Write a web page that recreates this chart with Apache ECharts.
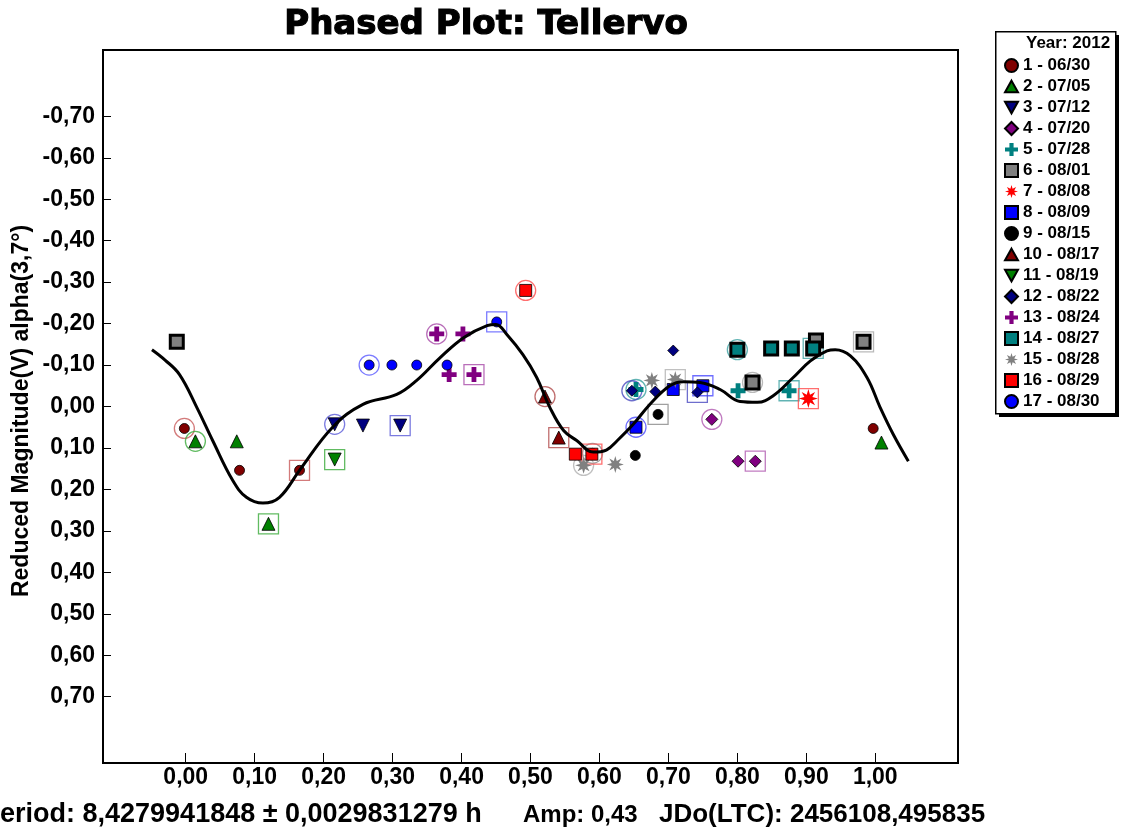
<!DOCTYPE html>
<html><head><meta charset="utf-8">
<script src="https://cdn.jsdelivr.net/npm/echarts@6/dist/echarts.min.js"></script>
<style>html,body{margin:0;padding:0;background:#fff}#c{width:1122px;height:832px}</style>
</head><body><div id="c"></div>
<script>
// ---------- DATA ----------
const chartTitle = 'Phased Plot: Tellervo';
const yAxisTitle = 'Reduced Magnitude(V) alpha(3,7°)';
const legendTitle = 'Year: 2012';
const footerPeriod = 'Period: 8,4279941848 ± 0,0029831279 h';
const footerAmp = 'Amp: 0,43';
const footerJD = 'JDo(LTC): 2456108,495835';

const seriesNames = ['1 - 06/30','2 - 07/05','3 - 07/12','4 - 07/20','5 - 07/28','6 - 08/01','7 - 08/08','8 - 08/09','9 - 08/15','10 - 08/17','11 - 08/19','12 - 08/22','13 - 08/24','14 - 08/27','15 - 08/28','16 - 08/29','17 - 08/30'];

// [phase, reduced magnitude, ring: 0 none, 1 circle, 2 square]
const s1  = [[-0.002,0.053,1],[0.078,0.154,0],[0.165,0.154,2],[0.997,0.053,0]];
const s2  = [[0.014,0.084,1],[0.074,0.084,0],[0.120,0.283,2],[1.009,0.087,0]];
const s3  = [[0.216,0.043,1],[0.257,0.046,0],[0.311,0.046,2]];
const s4  = [[0.763,0.031,1],[0.801,0.132,0],[0.826,0.132,2]];
const s5  = [[0.653,-0.041,1],[0.801,-0.038,0],[0.875,-0.038,2]];
const s6  = [[-0.013,-0.156,0],[0.822,-0.058,1],[0.914,-0.159,0],[0.983,-0.156,2]];
const s7  = [[0.903,-0.019,2]];
const s8  = [[0.653,0.050,1],[0.707,-0.041,0],[0.750,-0.050,2]];
const s9  = [[0.590,0.113,1],[0.652,0.118,0],[0.685,0.019,2]];
const s10 = [[0.521,-0.024,1],[0.541,0.075,2]];
const s11 = [[0.216,0.128,2]];
const s12 = [[0.647,-0.038,1],[0.681,-0.036,0],[0.707,-0.135,0],[0.742,-0.034,2]];
const s13 = [[0.364,-0.175,1],[0.382,-0.077,0],[0.402,-0.175,0],[0.418,-0.077,2]];
const s14 = [[0.800,-0.137,1],[0.849,-0.140,0],[0.879,-0.140,0],[0.910,-0.140,2]];
const s15 = [[0.577,0.142,1],[0.623,0.140,0],[0.676,-0.063,0],[0.710,-0.065,2]];
const s16 = [[0.493,-0.280,1],[0.565,0.115,0],[0.589,0.115,2]];
const s17 = [[0.266,-0.100,1],[0.299,-0.100,0],[0.335,-0.100,0],[0.379,-0.100,0],[0.451,-0.204,2]];
const allSeries = [s1,s2,s3,s4,s5,s6,s7,s8,s9,s10,s11,s12,s13,s14,s15,s16,s17];

// fitted curve
const curveX = [-0.049,-0.030,-0.009,0.016,0.039,0.068,0.088,0.112,0.136,0.165,0.213,0.257,0.306,0.335,0.369,0.403,0.437,0.450,0.466,0.489,0.509,0.528,0.548,0.567,0.591,0.610,0.626,0.649,0.673,0.702,0.722,0.746,0.775,0.804,0.829,0.852,0.881,0.906,0.930,0.942,0.964,0.988,1.007,1.026,1.048];
const curveY = [-0.137,-0.112,-0.077,0.002,0.082,0.178,0.219,0.233,0.219,0.154,0.050,-0.005,-0.029,-0.063,-0.118,-0.166,-0.195,-0.198,-0.173,-0.125,-0.070,0.002,0.058,0.082,0.110,0.105,0.082,0.043,-0.005,-0.050,-0.060,-0.058,-0.041,-0.012,-0.010,-0.026,-0.070,-0.110,-0.134,-0.137,-0.122,-0.070,0.002,0.067,0.132];

const xTicks = [0,0.1,0.2,0.3,0.4,0.5,0.6,0.7,0.8,0.9,1.0];
const yTicks = [-0.7,-0.6,-0.5,-0.4,-0.3,-0.2,-0.1,0,0.1,0.2,0.3,0.4,0.5,0.6,0.7];

// ---------- STYLES ----------
function starPath(n, rIn){
  let d = '';
  for (let i = 0; i < 2*n; i++){
    const a = i*Math.PI/n - Math.PI/2;
    const r = (i%2===0) ? 10 : 10*rIn;
    d += (i===0?'M':'L') + (10 + r*Math.cos(a)).toFixed(2) + ',' + (10 + r*Math.sin(a)).toFixed(2);
  }
  return 'path://' + d + 'Z';
}
const SYM_PLUS = 'path://M3.4,0H6.6V3.4H10V6.6H6.6V10H3.4V6.6H0V3.4H3.4Z';
const SYM_DOWN = 'path://M0,0L10,0L5,9Z';
const SYM_UP = 'path://M5,0L10,9L0,9Z';
const SYM_STAR = starPath(8, 0.45);
const styles = [
  {sym:'circle', size:10, color:'#800000', bw:0.8, ring:'#c85a5a'},
  {sym:SYM_UP, size:13, color:'#008000', bw:0.8, ring:'#3aaa3a'},
  {sym:SYM_DOWN, size:13, color:'#000080', bw:0.8, ring:'#5a5ad8'},
  {sym:'diamond', size:12, color:'#800080', bw:0.8, ring:'#b05ab0'},
  {sym:SYM_PLUS, size:15, color:'#008080', bw:0, ring:'#3aa0a0'},
  {sym:'rect', size:13, color:'#808080', bw:3, ring:'#a8a8a8'},
  {sym:SYM_STAR, size:19, color:'#ff0000', bw:0, ring:'#ff4a4a'},
  {sym:'rect', size:12, color:'#0000ff', bw:0.8, ring:'#4a4aff'},
  {sym:'circle', size:10, color:'#000000', bw:0.8, ring:'#888888'},
  {sym:SYM_UP, size:13, color:'#800000', bw:0.8, ring:'#b04a4a'},
  {sym:SYM_DOWN, size:13, color:'#008000', bw:0.8, ring:'#3aaa3a'},
  {sym:'diamond', size:11, color:'#000080', bw:0.8, ring:'#4a4ac0'},
  {sym:SYM_PLUS, size:15, color:'#800080', bw:0, ring:'#a84aa8'},
  {sym:'rect', size:13, color:'#008080', bw:3, ring:'#3aa0a0'},
  {sym:SYM_STAR, size:17, color:'#808080', bw:0, ring:'#b0b0b0'},
  {sym:'rect', size:12, color:'#ff0000', bw:0.8, ring:'#ff4a4a'},
  {sym:'circle', size:10, color:'#0000ff', bw:0.8, ring:'#5a5aff'}
];

const fmt = v => (Math.abs(v) < 1e-9 ? 0 : v).toFixed(2).replace('.', ',');
const FONT = 'Liberation Sans, Arial, sans-serif';

const series = [];
allSeries.forEach((pts, i) => {
  const st = styles[i];
  const circ = pts.filter(p => p[2] === 1).map(p => [p[0], p[1]]);
  const box = pts.filter(p => p[2] === 2).map(p => [p[0], p[1]]);
  if (circ.length) series.push({type:'scatter', data:circ, symbol:'circle', symbolSize:20, z:2, silent:true,
    itemStyle:{color:'rgba(0,0,0,0)', borderColor:st.ring, borderWidth:1.3}});
  if (box.length) series.push({type:'scatter', data:box, symbol:'rect', symbolSize:20, z:2, silent:true,
    itemStyle:{color:'rgba(0,0,0,0)', borderColor:st.ring, borderWidth:1.3}});
});
allSeries.forEach((pts, i) => {
  const st = styles[i];
  series.push({type:'scatter', name:seriesNames[i], data:pts.map(p => [p[0], p[1]]), symbol:st.sym, symbolSize:st.size, z:3,
    itemStyle:{color:st.color, borderColor:'#000', borderWidth:st.bw, opacity:1}});
});
series.push({type:'line', data:curveX.map((x, i) => [x, curveY[i]]), smooth:0.4, symbol:'none', z:5, silent:true,
  lineStyle:{color:'#000', width:3}});

const chart = echarts.init(document.getElementById('c'), null, {renderer:'canvas'});
chart.setOption({
  animation:false,
  backgroundColor:'#fff',
  grid:{left:103, right:164, top:50, bottom:69, show:true, borderColor:'#000', borderWidth:2, backgroundColor:'#fff'},
  xAxis:{type:'value', min:-0.12, max:1.12,
    axisLine:{show:true, onZero:false, lineStyle:{color:'#000', width:2}},
    axisTick:{show:true, inside:true, length:10, customValues:xTicks, lineStyle:{color:'#000', width:1}},
    axisLabel:{customValues:xTicks, formatter:fmt, color:'#000', fontFamily:FONT, fontWeight:'bold', fontSize:23, margin:3},
    splitLine:{show:false}},
  yAxis:{type:'value', min:-0.86, max:0.86, inverse:true,
    axisLine:{show:true, onZero:false, lineStyle:{color:'#000', width:2}},
    axisTick:{show:true, inside:true, length:8, customValues:yTicks, lineStyle:{color:'#000', width:1}},
    axisLabel:{customValues:yTicks, formatter:fmt, color:'#000', fontFamily:FONT, fontWeight:'bold', fontSize:23, margin:8},
    splitLine:{show:false}},
  legend:{show:true, orient:'vertical', left:1004, top:57, itemWidth:13, itemHeight:13, itemGap:4, padding:0,
    data:seriesNames, selectedMode:false,
    textStyle:{color:'#000', fontFamily:FONT, fontWeight:'bold', fontSize:17, lineHeight:17}},
  graphic:[
    {type:'rect', left:999, top:35, z:-2, shape:{width:120, height:382}, style:{fill:'#000'}},
    {type:'rect', left:995, top:31, z:-1, shape:{width:120, height:382}, style:{fill:'#fff', stroke:'#000', lineWidth:1.5}},
    {type:'text', left:1026, top:35, z:10, style:{text:legendTitle, fill:'#000', font:'bold 17px ' + FONT}},
    {type:'text', x:486, y:25, z:10, style:{text:chartTitle, fill:'#000', stroke:'#000', lineWidth:1.2, font:'bold 34px DejaVu Sans', textAlign:'center', textVerticalAlign:'middle'}},
    {type:'text', x:22, y:411, rotation:Math.PI/2, z:10, style:{text:yAxisTitle, fill:'#000', font:'bold 23px ' + FONT, textAlign:'center', textVerticalAlign:'middle'}},
    {type:'text', x:-18, y:815, z:10, style:{text:footerPeriod, fill:'#000', font:'bold 27px ' + FONT, textVerticalAlign:'middle'}},
    {type:'text', x:523, y:815, z:10, style:{text:footerAmp, fill:'#000', font:'bold 24px ' + FONT, textVerticalAlign:'middle'}},
    {type:'text', x:659, y:815, z:10, style:{text:footerJD, fill:'#000', font:'bold 26px ' + FONT, textVerticalAlign:'middle'}}
  ],
  series:series
});
</script></body></html>
